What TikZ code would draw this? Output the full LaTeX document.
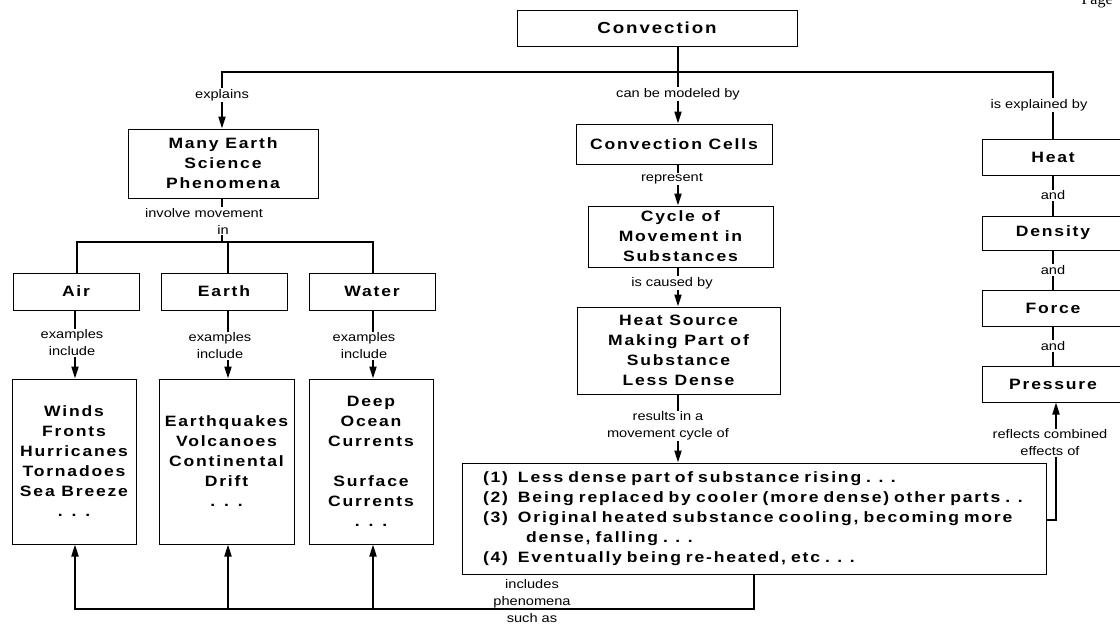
\documentclass[tikz,border=0pt]{standalone}
\usepackage{fontspec}
\usetikzlibrary{arrows.meta}
\newfontfamily\boxfont{Liberation Sans}[FakeStretch=1.17,LetterSpace=12]
\newfontfamily\lblfont{Liberation Sans}[FakeStretch=1.17]
\newfontfamily\pagefont{Liberation Serif}
\tikzset{
  box/.style={draw, line width=1pt, fill=white, inner sep=0pt, align=center,
    font=\boxfont\bfseries\fontsize{15}{20}\selectfont},
  conn/.style={line width=2pt, line cap=rect},
  arr/.style={conn, -{Triangle[length=12pt,width=7pt]}},
  lbl/.style={fill=white, inner sep=1pt, align=center,
    font=\lblfont\fontsize{12.5}{17}\selectfont},
}
\begin{document}
\begin{tikzpicture}[x=1pt,y=-1pt]
\useasboundingbox (0,0) rectangle (1120,632);
\clip (0,0) rectangle (1120,632);
\node[font=\pagefont\fontsize{16}{18}\selectfont, anchor=base west] (pg) at (1078,4) {Page};

% boxes
\node[box, minimum width=280pt, minimum height=36pt, font=\boxfont\bfseries\fontsize{16}{20}\selectfont] (conv) at (657,28) {Convection};
\node[box, minimum width=190pt, minimum height=69pt] (many) at (223,163.5) {Many Earth\\Science\\Phenomena};
\node[box, minimum width=126pt, minimum height=37pt] (air) at (76,291.5) {Air};
\node[box, minimum width=126pt, minimum height=37pt] (earth) at (224,291.5) {Earth};
\node[box, minimum width=126pt, minimum height=37pt] (water) at (372,291.5) {Water};
\node[box, minimum width=124pt, minimum height=165pt] (airex) at (74,461.5) {Winds\\Fronts\\Hurricanes\\Tornadoes\\Sea Breeze\\. . .};
\node[box, minimum width=135pt, minimum height=165pt] (earthex) at (226.5,461.5) {Earthquakes\\Volcanoes\\Continental\\Drift\\. . .};
\node[box, minimum width=124pt, minimum height=165pt] (waterex) at (371,461.5) {Deep\\Ocean\\Currents\\[20pt]Surface\\Currents\\. . .};
\node[box, minimum width=196pt, minimum height=40pt] (cells) at (674,144) {Convection Cells};
\node[box, minimum width=185pt, minimum height=61pt] (cycle) at (680.5,236.5) {Cycle of\\Movement in\\Substances};
\node[box, minimum width=203pt, minimum height=87pt] (source) at (678.5,350.5) {Heat Source\\Making Part of\\Substance\\Less Dense};
\node[box, align=left, text width=542pt, inner xsep=21pt, minimum height=111pt] (list) at (754,518.5) {%
\makebox[35pt][l]{(1)}Less dense part of substance rising . . .\\
\makebox[35pt][l]{(2)}Being replaced by cooler (more dense) other parts . .\\
\makebox[35pt][l]{(3)}Original heated substance cooling, becoming more\\
\hspace*{43pt}dense, falling . . .\\
\makebox[35pt][l]{(4)}Eventually being re-heated, etc . . .};
\node[box, minimum width=142pt, minimum height=36pt] (heat) at (1053,157) {Heat};
\node[box, minimum width=142pt, minimum height=34pt] (density) at (1053,233) {Density};
\node[box, minimum width=142pt, minimum height=36pt] (force) at (1053,308) {Force};
\node[box, minimum width=142pt, minimum height=36pt] (pressure) at (1053,384) {Pressure};

% junctions
\coordinate (jC) at (678,72);
\coordinate (jL) at (222,72);
\coordinate (jR) at (1053,72);
\coordinate (jM) at (222,242);
\coordinate (jA) at (77,242);
\coordinate (jE) at (228,242);
\coordinate (jW) at (373,242);
\coordinate (bA) at (75,609);
\coordinate (bE) at (228,609);
\coordinate (bW) at (373,609);
\coordinate (bB) at (754,609);
\coordinate (jP) at (1056,520);

% top
\draw[conn] (conv.south -| jC) -- (jC);
\draw[conn] (heat.north -| jR) -- (jR) -- (jL);
\draw[arr] (jL) -- (many.north -| jL);
\node[lbl] (l1) at (222,95) {explains};
\draw[arr] (jC) -- (cells.north -| jC);
\node[lbl] (l2) at (678,94) {can be modeled by};
\node[lbl] (l3) at (1039,105) {is explained by};

% left
\draw[conn] (many.south -| jM) -- (jM);
\node[lbl] (l4) at (204,221) {involve movement\\\hspace*{38pt}in};
\draw[conn] (air.north -| jA) -- (jA) -- (jW) -- (water.north -| jW);
\draw[conn] (jE) -- (earth.north -| jE);
\draw[arr] (air.south -| bA) -- (airex.north -| bA);
\draw[arr] (earth.south -| bE) -- (earthex.north -| bE);
\draw[arr] (water.south -| bW) -- (waterex.north -| bW);
\node[lbl] (l5) at (72,343) {examples\\include};
\node[lbl] (l6) at (220,346) {examples\\include};
\node[lbl] (l7) at (364,346) {examples\\include};

% bottom
\draw[conn] (list.south -| bB) -- (bB) -- (bA);
\draw[arr] (bA) -- (airex.south -| bA);
\draw[arr] (bE) -- (earthex.south -| bE);
\draw[arr] (bW) -- (waterex.south -| bW);
\node[lbl, fill=none] (l8) at (532,601) {includes\\phenomena\\such as};

% center
\draw[arr] (cells.south -| jC) -- (cycle.north -| jC);
\node[lbl] (l9) at (672,179) {represent};
\draw[arr] (cycle.south -| jC) -- (source.north -| jC);
\node[lbl] (l10) at (672,283) {is caused by};
\draw[arr] (source.south -| jC) -- (list.north -| jC);
\node[lbl] (l11) at (668,426) {results in a\\movement cycle of};

% right
\draw[conn] (heat.south) -- node[lbl] (a1) {and} (density.north);
\draw[conn] (density.south) -- node[lbl] (a2) {and} (force.north);
\draw[conn] (force.south) -- node[lbl] (a3) {and} (pressure.north);
\draw[arr] (list.east |- jP) -- (jP) -- (pressure.south -| jP);
\node[lbl] (l12) at (1050,443) {reflects combined\\effects of};
\end{tikzpicture}
\end{document}
